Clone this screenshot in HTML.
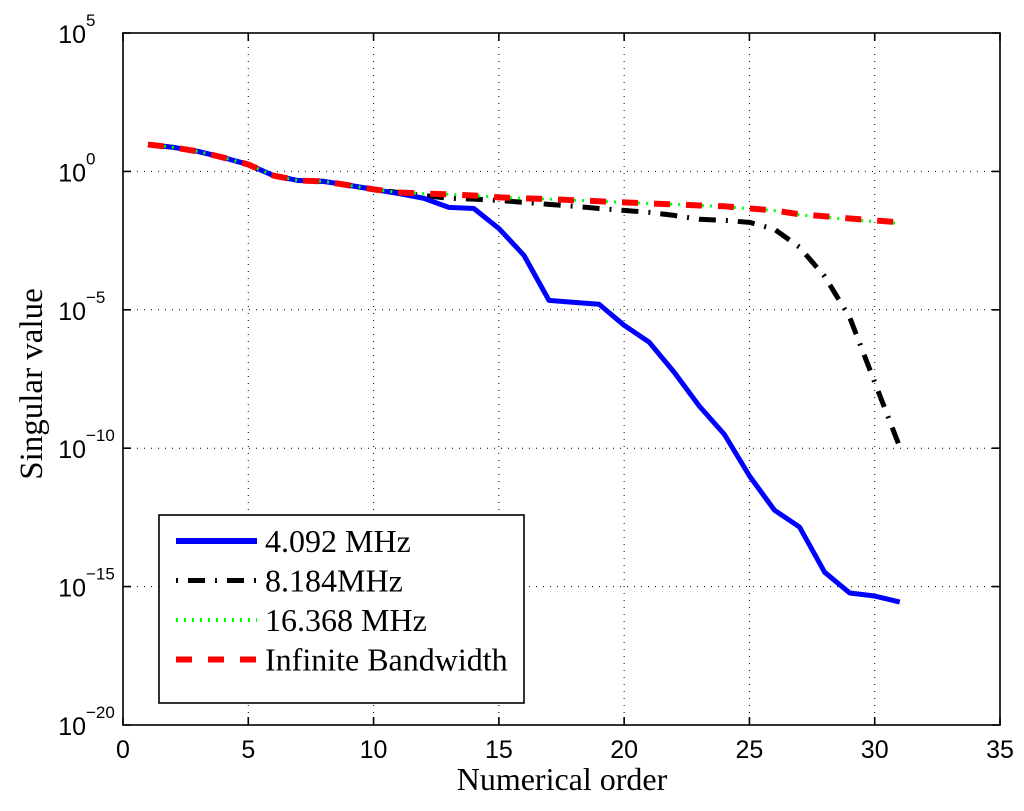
<!DOCTYPE html>
<html><head><meta charset="utf-8"><style>
html,body{margin:0;padding:0;background:#fff;}
svg{display:block;}
</style></head><body>
<svg id="chart" width="1024" height="811" xmlns="http://www.w3.org/2000/svg">
<g id="grid"></g>
<g id="series"></g>
<rect x="123" y="33" width="877" height="692" fill="none" stroke="#000" stroke-width="1.6"/>
<g id="ticks"></g>
<text x="562" y="790" font-family="Liberation Serif, serif" font-size="32" text-anchor="middle">Numerical order</text>
<text transform="translate(42,384) rotate(-90)" font-family="Liberation Serif, serif" font-size="33" text-anchor="middle">Singular value</text>
<g id="legend"></g>
</svg>
<script>
const xTicks = [0,5,10,15,20,25,30,35];
const yTickExps = [5,0,-5,-10,-15,-20];
const orders = [1,2,3,4,5,6,7,8,9,10,11,12,13,14,15,16,17,18,19,20,21,22,23,24,25,26,27,28,29,30,31];
const blueLog = [0.97,0.87,0.72,0.5,0.25,-0.15,-0.33,-0.36,-0.5,-0.65,-0.8,-0.97,-1.3,-1.34,-2.06,-3.03,-4.66,-4.73,-4.8,-5.56,-6.17,-7.26,-8.48,-9.5,-11.0,-12.24,-12.85,-14.48,-15.23,-15.34,-15.56];
const blackLog = [0.97,0.87,0.72,0.5,0.25,-0.15,-0.33,-0.36,-0.5,-0.65,-0.76,-0.87,-0.97,-1.0,-1.05,-1.12,-1.19,-1.26,-1.34,-1.41,-1.48,-1.59,-1.73,-1.77,-1.84,-2.09,-2.74,-3.79,-5.27,-7.62,-9.96];
const greenLog = [0.97,0.87,0.72,0.5,0.25,-0.15,-0.33,-0.36,-0.5,-0.65,-0.76,-0.8,-0.83,-0.87,-0.94,-0.97,-1.0,-1.04,-1.08,-1.12,-1.16,-1.19,-1.23,-1.27,-1.35,-1.42,-1.57,-1.65,-1.74,-1.81,-1.88];
const redLog = [0.97,0.87,0.72,0.5,0.25,-0.15,-0.33,-0.36,-0.5,-0.65,-0.76,-0.8,-0.83,-0.87,-0.94,-0.97,-1.0,-1.04,-1.08,-1.12,-1.16,-1.19,-1.23,-1.26,-1.34,-1.41,-1.55,-1.62,-1.7,-1.77,-1.84];
const legendLabels = ["4.092 MHz","8.184MHz","16.368 MHz","Infinite Bandwidth"];

const NS="http://www.w3.org/2000/svg";
const X0=123,X1=1000,Y0=725,Y1=33;
const xs=v=>X0+(v-0)/35*(X1-X0);
const ys=e=>Y0-(e+20)/25*(Y0-Y1);
function mk(tag,attrs,parent){const e=document.createElementNS(NS,tag);for(const k in attrs)e.setAttribute(k,attrs[k]);parent.appendChild(e);return e;}
const grid=document.getElementById('grid'),ticks=document.getElementById('ticks'),series=document.getElementById('series'),legend=document.getElementById('legend');

xTicks.forEach(t=>{
  const x=xs(t);
  if(t>0&&t<35){const g=mk('line',{x1:x,x2:x,y1:Y1,y2:Y0,stroke:'#000','stroke-width':1,'stroke-dasharray':'1,6'},grid);
  
  }
  const tk=mk('path',{d:`M${x},${Y0}v-8M${x},${Y1}v8`,stroke:'#000','stroke-width':1.6},ticks);
  
  
  const lb=mk('text',{x:x,y:Y0+33,'font-family':'Liberation Sans, sans-serif','font-size':25,'text-anchor':'middle'},ticks);
  lb.textContent=t;
  
  
});
yTickExps.forEach(e=>{
  const y=ys(e);
  if(e<5&&e>-20){const g=mk('line',{x1:X0,x2:X1,y1:y,y2:y,stroke:'#000','stroke-width':1,'stroke-dasharray':'1,6'},grid);
  
  }
  const tk=mk('path',{d:`M${X0},${y}h8M${X1},${y}h-8`,stroke:'#000','stroke-width':1.6},ticks);
  
  
  const lb=mk('text',{x:86,y:y+10,'font-family':'Liberation Sans, sans-serif','font-size':25,'text-anchor':'end'},ticks);
  lb.textContent='10';
  
  
  const sp=mk('text',{x:86,y:y-7,'font-family':'Liberation Sans, sans-serif','font-size':17,'text-anchor':'start'},ticks);
  sp.textContent=String(e).replace('-','\u2212');
  
  
});

const styles=[
 {d:blackLog,c:'#000',w:5,da:'2,10,17,10',n:'series-8-184mhz'},
 {d:blueLog,c:'#0000ff',w:5,da:'',n:'series-4-092mhz'},
 {d:greenLog,c:'#00ff00',w:3,da:'2,6',n:'series-16-368mhz'},
 {d:redLog,c:'#ff0000',w:6,da:'16,16',n:'series-infinite-bandwidth'}
];
styles.forEach(s=>{
  const pts=orders.map((o,i)=>xs(o)+','+ys(s.d[i])).join(' ');
  const p=mk('polyline',{points:pts,fill:'none',stroke:s.c,'stroke-width':s.w,'stroke-dasharray':s.da,'stroke-linejoin':'round'},series);
  
  
});

const box=mk('rect',{x:159,y:515,width:365,height:188,fill:'#fff',stroke:'#000','stroke-width':1.6},legend);


const lst=[{c:'#0000ff',w:6,da:''},{c:'#000',w:5,da:'2,10,17,10'},{c:'#00ff00',w:4,da:'2,6'},{c:'#ff0000',w:6,da:'16,16'}];
legendLabels.forEach((t,i)=>{
  const y=541+i*39.5;
  const l=mk('line',{x1:176,x2:257,y1:y,y2:y,stroke:lst[i].c,'stroke-width':lst[i].w,'stroke-dasharray':lst[i].da},legend);
  
  
  const tx=mk('text',{x:265,y:y+11,'font-family':'Liberation Serif, serif','font-size':32},legend);
  tx.textContent=t;
  
  
});
</script>
</body></html>
